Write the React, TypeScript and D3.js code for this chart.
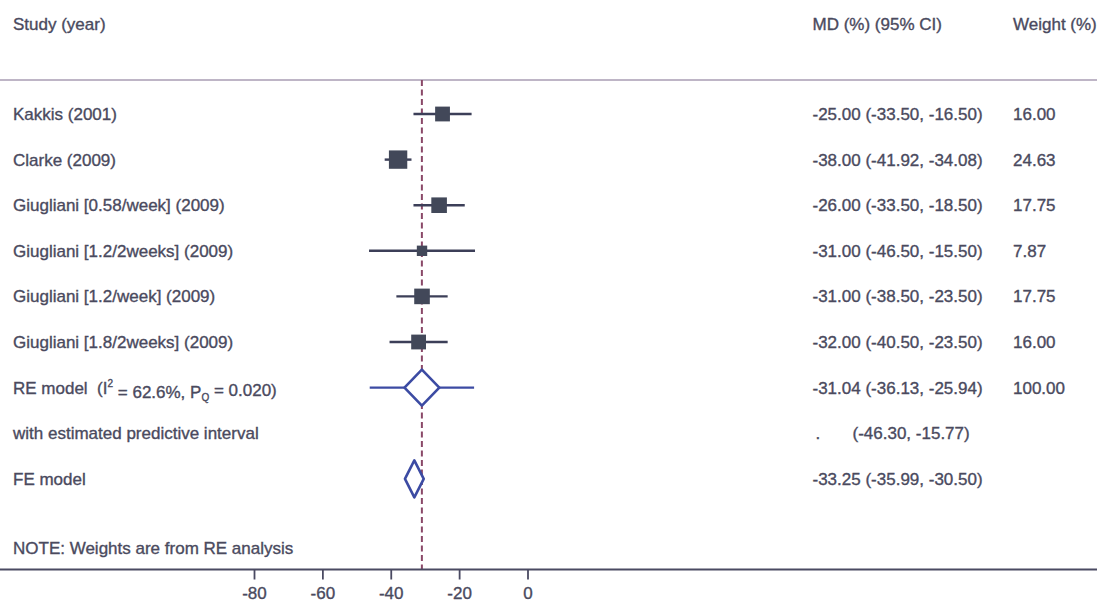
import * as d3 from "d3";

const studies = [
  "Kakkis (2001)",
  "Clarke (2009)",
  "Giugliani [0.58/week] (2009)",
  "Giugliani [1.2/2weeks] (2009)",
  "Giugliani [1.2/week] (2009)",
  "Giugliani [1.8/2weeks] (2009)",
];
const md = [-25.0, -38.0, -26.0, -31.0, -31.0, -32.0];
const lower = [-33.5, -41.92, -33.5, -46.5, -38.5, -40.5];
const upper = [-16.5, -34.08, -18.5, -15.5, -23.5, -23.5];
const weights = [16.0, 24.63, 17.75, 7.87, 17.75, 16.0];

const reEst = -31.04;
const reCI = [-36.13, -25.94];
const rePI = [-46.3, -15.77];
const feEst = -33.25;
const feCI = [-35.99, -30.5];

const xTicks = [-80, -60, -40, -20, 0];
const rowKeys = [...studies, "re", "pi", "fe"];

const W = 1112;
const H = 602;
const textColor = "#4a4a5e";
const ciColor = "#3c3f58";
const boxColor = "#424859";
const blue = "#3c4ba3";
const font = "'Liberation Sans', Arial, Helvetica, sans-serif";

const fmt = (v: number) => v.toFixed(2);

export default function App() {
  const x = d3.scaleLinear().domain([-80, 0]).range([254.5, 528]);
  const y = d3.scalePoint<string>().domain(rowKeys).range([114, 478.8]);
  const side = d3.scaleSqrt().domain([0, 100]).range([0, 37]);

  const headerY = 80;
  const axisY = 569.5;
  const colLabel = 13;
  const colMD = 812.5;
  const colW = 1013;
  const fs = 17;

  const diamond = (est: number, lo: number, hi: number, cy: number, h: number) =>
    `M${x(lo)},${cy} L${x(est)},${cy - h} L${x(hi)},${cy} L${x(est)},${cy + h} Z`;

  const yRE = y("re")!;
  const yPI = y("pi")!;
  const yFE = y("fe")!;

  return (
    <svg
      width={W}
      height={H}
      style={{ position: "absolute", left: 0, top: 0, background: "#fff" }}
      fontFamily={font}
      fontSize={fs}
    >
      <g fill={textColor} stroke={textColor} strokeWidth={0.35}>
        {/* header */}
        <text x={colLabel} y={24} dy="0.35em">Study (year)</text>
        <text x={colMD} y={24} dy="0.35em">MD (%) (95% CI)</text>
        <text x={colW} y={24} dy="0.35em">Weight (%)</text>

        {studies.map((s, i) => {
          const cy = y(s)!;
          return (
            <g key={s}>
              <text x={colLabel} y={cy} dy="0.35em">{s}</text>
              <text x={colMD} y={cy} dy="0.35em">
                {`${fmt(md[i])} (${fmt(lower[i])}, ${fmt(upper[i])})`}
              </text>
              <text x={colW} y={cy} dy="0.35em">{fmt(weights[i])}</text>
            </g>
          );
        })}

        <text x={colLabel} y={yRE} dy="0.35em" style={{ whiteSpace: "pre" }}>
          {"RE model  (I"}
          <tspan fontSize={10} dy="-0.65em">2</tspan>
          <tspan dy="0.65em">{" = 62.6%, P"}</tspan>
          <tspan fontSize={10} dy="0.3em">Q</tspan>
          <tspan dy="-0.3em">{" = 0.020)"}</tspan>
        </text>
        <text x={colMD} y={yRE} dy="0.35em">{`${fmt(reEst)} (${fmt(reCI[0])}, ${fmt(reCI[1])})`}</text>
        <text x={colW} y={yRE} dy="0.35em">{fmt(100)}</text>

        <text x={colLabel} y={yPI} dy="0.35em">with estimated predictive interval</text>
        <text x={colMD + 3} y={yPI} dy="0.35em">.</text>
        <text x={colMD + 40} y={yPI} dy="0.35em">{`(${fmt(rePI[0])}, ${fmt(rePI[1])})`}</text>

        <text x={colLabel} y={yFE} dy="0.35em">FE model</text>
        <text x={colMD} y={yFE} dy="0.35em">{`${fmt(feEst)} (${fmt(feCI[0])}, ${fmt(feCI[1])})`}</text>

        <text x={colLabel} y={548} dy="0.35em">NOTE: Weights are from RE analysis</text>

        {xTicks.map((t) => (
          <text key={t} x={x(t)} y={593.5} dy="0.35em" textAnchor="middle">{String(t)}</text>
        ))}
      </g>

      <line x1={0} x2={1097} y1={headerY} y2={headerY} stroke="#a99db3" strokeWidth={1.5} />

      {/* reference line at RE estimate */}
      <line
        x1={x(reEst)}
        x2={x(reEst)}
        y1={headerY}
        y2={axisY}
        stroke="#8a4868"
        strokeWidth={2}
        strokeDasharray="6,3.5"
      />

      {/* study markers */}
      {studies.map((s, i) => {
        const cy = y(s)!;
        const sz = side(weights[i]);
        return (
          <g key={s}>
            <line x1={x(lower[i])} x2={x(upper[i])} y1={cy} y2={cy} stroke={ciColor} strokeWidth={2.4} />
            <rect x={x(md[i]) - sz / 2} y={cy - sz / 2} width={sz} height={sz} fill={boxColor} />
          </g>
        );
      })}

      {/* RE model diamond with predictive interval */}
      <line x1={x(rePI[0])} x2={x(rePI[1])} y1={yRE} y2={yRE} stroke={blue} strokeWidth={2.4} />
      <path d={diamond(reEst, reCI[0], reCI[1], yRE, 18)} fill="#fff" stroke={blue} strokeWidth={2.6} strokeLinejoin="round" />

      {/* FE model diamond */}
      <path d={diamond(feEst, feCI[0], feCI[1], yFE, 18.5)} fill="#fff" stroke={blue} strokeWidth={2.6} strokeLinejoin="round" />

      {/* x axis */}
      <line x1={0} x2={1097} y1={axisY} y2={axisY} stroke="#4a4a62" strokeWidth={2} />
      {xTicks.map((t) => (
        <line key={t} x1={x(t)} x2={x(t)} y1={axisY} y2={axisY + 10} stroke="#4a4a62" strokeWidth={1.8} />
      ))}
    </svg>
  );
}
